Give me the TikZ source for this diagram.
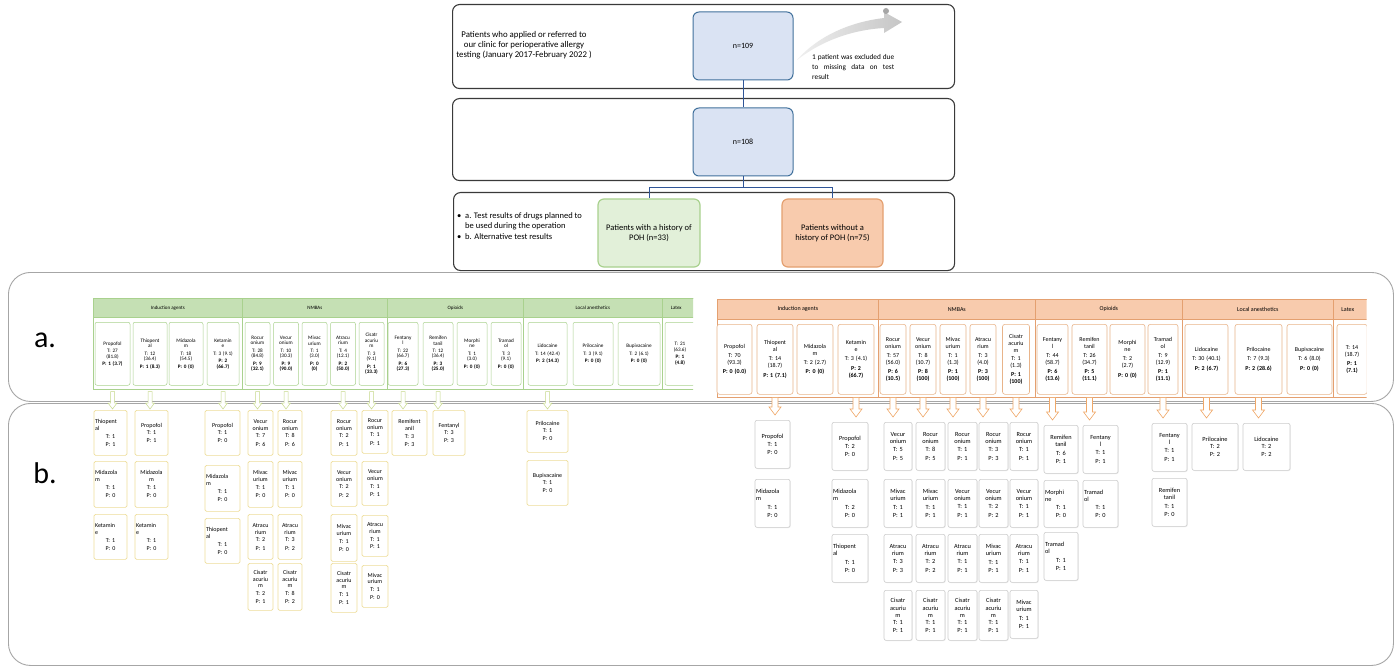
\documentclass[tikz,border=0pt]{standalone}
\usepackage{fontspec}
\setmainfont{Carlito}
\usetikzlibrary{calc,shadows}
\definecolor{frame}{HTML}{3A3A3A}
\definecolor{bluefill}{HTML}{DAE3F3}
\definecolor{blueline}{HTML}{41719C}
\definecolor{connc}{HTML}{2F5597}
\definecolor{gfill}{HTML}{E2F0D9}
\definecolor{gline}{HTML}{A9D18E}
\definecolor{ghead}{HTML}{C5E0B4}
\definecolor{ofill}{HTML}{F8CBAD}
\definecolor{oline}{HTML}{E4A070}
\definecolor{oitem}{HTML}{E8B48A}
\definecolor{yline}{HTML}{EEDD99}
\definecolor{larc}{HTML}{C5D88A}
\definecolor{rarc}{HTML}{F0A868}
\definecolor{panelc}{HTML}{A6A6A6}
\newcommand{\bx}[7]{%
  \pgfmathsetmacro{\tw}{#5-2}%
  \node[#1, minimum width=#5pt, minimum height=#6pt, text width=\tw pt, inner xsep=1pt, inner ysep=0pt, anchor=north] (#2) at (#3,#4) {#7};}
\newcommand{\hd}[7]{%
  \pgfmathsetmacro{\hw}{#4-#3}%
  \node[#1, minimum width=\hw pt, minimum height=#6pt, inner sep=0pt, anchor=north west] (#2) at (#3,#5) {#7};}
\newcommand{\nl}[1]{\makebox[\linewidth][l]{#1}}
\newcommand{\larr}[2]{\draw[larrow] let \p1=(#1.south), \p2=(#2.north) in
  (\x1-2pt,\y1-6pt) -- (\x1-2pt,\y2+7pt) -- (\x1-4.5pt,\y2+7pt) -- (\x1,\y2+1pt) -- (\x1+4.5pt,\y2+7pt) -- (\x1+2pt,\y2+7pt) -- (\x1+2pt,\y1-6pt) -- cycle;}
\newcommand{\rarr}[2]{\draw[rarrow] let \p1=(#1.south), \p2=(#2.north) in
  (\x1-3pt,\y1-3pt) -- (\x1-3pt,\y2+13pt) -- (\x1-6pt,\y2+13pt) -- (\x1,\y2+5pt) -- (\x1+6pt,\y2+13pt) -- (\x1+3pt,\y2+13pt) -- (\x1+3pt,\y1-3pt) -- cycle;}
\tikzset{
 tframe/.style={draw=frame, line width=1.1pt, rounded corners=7pt, inner sep=0pt},
 bluebox/.style={draw=blueline, fill=bluefill, line width=1pt, rounded corners=6pt, font=\fontsize{8}{10}\selectfont},
 greenbox/.style={draw=gline, fill=gfill, line width=1.2pt, rounded corners=6pt, align=center, font=\fontsize{8.5}{10}\selectfont},
 orangebox/.style={draw=oline, fill=ofill, line width=1.2pt, rounded corners=6pt, align=center, font=\fontsize{8.5}{10}\selectfont},
 conn/.style={draw=connc, line width=1pt},
 panelbox/.style={draw=panelc, line width=0.9pt, rounded corners=22pt, inner sep=0pt},
 lhead/.style={draw=gline, fill=ghead, line width=0.6pt, font=\fontsize{5}{6}\selectfont},
 lgroup/.style={draw=gline, line width=0.6pt},
 litem/.style={draw=gline, fill=white, line width=0.5pt, rounded corners=2pt, align=center, font=\fontsize{5.2}{5.7}\selectfont},
 lbox/.style={draw=yline, fill=white, line width=0.7pt, rounded corners=1.5pt, align=center, font=\fontsize{6}{6.8}\selectfont},
 rhead/.style={draw=oline, fill=ofill, line width=0.6pt, font=\fontsize{6}{7}\selectfont},
 rgroup/.style={draw=oline, line width=0.6pt},
 ritem/.style={draw=oitem, fill=white, line width=0.6pt, rounded corners=2.5pt, align=center, font=\fontsize{6}{6.8}\selectfont},
 rbox/.style={draw=gray!40, fill=white, line width=0.6pt, rounded corners=2pt, align=center, font=\fontsize{6.3}{7.3}\selectfont, drop shadow={shadow xshift=0.7pt, shadow yshift=-0.7pt, opacity=0.25, fill=gray!60}},
 larrow/.style={draw=larc, fill=white, line width=0.5pt},
 rarrow/.style={draw=rarc, fill=white, line width=0.6pt},
 plain/.style={inner sep=0pt}
}
\begin{document}
\begin{tikzpicture}[x=1pt,y=-1pt]
\useasboundingbox (0,0) rectangle (1399,668);
\fill[white] (0,0) rectangle (1399,668);

% ---------- top flow ----------
\node[tframe, minimum width=502pt, minimum height=84pt, anchor=north west] (f1) at (452,4) {};
\node[tframe, minimum width=502pt, minimum height=82pt, anchor=north west] (f2) at (452,98) {};
\node[tframe, minimum width=501pt, minimum height=78pt, anchor=north west] (f3) at (453,192) {};

\node[bluebox, minimum width=100pt, minimum height=68pt] (n109) at (743,46) {n=109};
\node[bluebox, minimum width=100pt, minimum height=68pt] (n108) at (743,142) {n=108};
\node[greenbox, minimum width=102pt, minimum height=68pt] (poh) at (649,233) {Patients with a history of\\POH (n=33)};
\node[orangebox, minimum width=101pt, minimum height=68pt] (nopoh) at (832.5,233) {Patients without a\\history of POH (n=75)};

\draw[conn] (n109.south) -- (n108.north);
\draw[conn] (n108.south) -- ++(0,11) -| (poh.north);
\draw[conn] (n108.south) -- ++(0,11) -| (nopoh.north);

\node[font=\fontsize{8.8}{10}\selectfont, align=center] (t1) at (524,45) {Patients who applied or referred to\\our clinic for perioperative allergy\\testing (January 2017-February 2022 )};

\shade[left color=gray!12, right color=gray!45] (797,60) .. controls (818,36) and (850,22) .. (884,18) -- (884,12) -- (902,22) -- (884,33) -- (884,28) .. controls (850,30) and (820,42) .. (797,60) -- cycle;
\node[circle, fill=gray!70, minimum size=6pt, inner sep=0pt] (dot) at (886,11) {};

\node[font=\fontsize{7.3}{10}\selectfont, align=left, anchor=north west, plain] (t2) at (812,54) {\makebox[82pt][s]{1 patient was excluded due}\\\makebox[82pt][s]{to missing data on test}\\result};

\node[font=\fontsize{8.5}{10.5}\selectfont, align=left, anchor=north west, plain] (t3) at (457,212) {\makebox[8pt][l]{\textbullet}a. Test results of drugs planned to\\\hspace*{8pt}be used during the operation\\\makebox[8pt][l]{\textbullet}b. Alternative test results};

% ---------- panels ----------
\node[panelbox, minimum width=1385pt, minimum height=129pt, anchor=north west] (pa) at (8,272) {};
\node[panelbox, minimum width=1385pt, minimum height=262pt, anchor=north west] (pb) at (8,403) {};
\draw[gray!70, line width=1pt] (698,403) -- (712,403);
\node[font=\fontsize{30}{30}\selectfont] (la) at (45,340) {a.};
\node[font=\fontsize{30}{30}\selectfont] (lbl) at (45,473) {b.};

% ---------- left (green) panel a ----------
\draw[lgroup] (93,298) rectangle (242,389);
\draw[lgroup] (242,298) rectangle (387,389);
\draw[lgroup] (387,298) rectangle (523,389);
\draw[lgroup] (523,298) rectangle (662,389);
\hd{lhead}{lhA}{93}{242}{298}{19}{Induction agents}
\hd{lhead}{lhB}{242}{387}{298}{19}{NMBAs}
\hd{lhead}{lhC}{387}{523}{298}{19}{Opioids}
\hd{lhead}{lhD}{523}{662}{298}{19}{Local anesthetics}
\begin{scope}
\clip (660,290) rectangle (693,395);
\draw[lgroup] (662,298) rectangle (700,389);
\hd{lhead}{lhE}{662}{700}{298}{19}{Latex\hspace*{10pt}}
\bx{litem}{lLat}{680}{322}{30}{63}{T: 21\\(63.6)\\[1.5pt]\bfseries P: 1\\(4.8)}
\end{scope}

\bx{litem}{lPro}{112.5}{322}{35}{63}{Propofol\\[1.5pt]T: 27\\(81.8)\\[1.5pt]\bfseries P: 1 (3.7)}
\bx{litem}{lThi}{150}{322}{34}{63}{Thiopent\\al\\[1.5pt]T: 12\\(36.4)\\[1.5pt]\bfseries P: 1 (8.3)}
\bx{litem}{lMid}{186}{322}{34}{63}{Midazola\\m\\[1.5pt]T: 18\\(54.5)\\[1.5pt]\bfseries P: 0 (0)}
\bx{litem}{lKet}{223}{322}{32}{63}{Ketamin\\e\\[1.5pt]T: 3 (9.1)\\[1.5pt]\bfseries P: 2\\(66.7)}
\bx{litem}{lRoc}{257.5}{322}{25}{63}{Rocur\\onium\\[1.5pt]T: 28\\(84.8)\\[1.5pt]\bfseries P: 9\\(32.1)}
\bx{litem}{lVec}{286}{322}{25}{63}{Vecur\\onium\\[1.5pt]T: 10\\(30.3)\\[1.5pt]\bfseries P: 9\\(90.0)}
\bx{litem}{lMiv}{314.5}{322}{25}{63}{Mivac\\urium\\[1.5pt]T: 1\\(3.0)\\[1.5pt]\bfseries P: 0\\(0)}
\bx{litem}{lAtr}{343}{322}{25}{63}{Atracu\\rium\\[1.5pt]T: 4\\(12.1)\\[1.5pt]\bfseries P: 2\\(50.0)}
\bx{litem}{lCis}{371.5}{322}{25}{63}{Cisatr\\acuriu\\m\\[1.5pt]T: 3\\(9.1)\\[1.5pt]\bfseries P: 1\\(33.3)}
\bx{litem}{lFen}{403}{322}{30}{63}{Fentany\\l\\[1.5pt]T: 22\\(66.7)\\[1.5pt]\bfseries P: 6\\(27.3)}
\bx{litem}{lRem}{438}{322}{30}{63}{Remifen\\tanil\\[1.5pt]T: 12\\(36.4)\\[1.5pt]\bfseries P: 3\\(25.0)}
\bx{litem}{lMor}{472}{322}{30}{63}{Morphi\\ne\\[1.5pt]T: 1\\(3.0)\\[1.5pt]\bfseries P: 0 (0)}
\bx{litem}{lTra}{506}{322}{30}{63}{Tramad\\ol\\[1.5pt]T: 3\\(9.1)\\[1.5pt]\bfseries P: 0 (0)}
\bx{litem}{lLid}{547.5}{322}{39}{63}{Lidocaine\\[1.5pt]T: 14 (42.4)\\[1.5pt]\bfseries P: 2 (14.3)}
\bx{litem}{lPri}{593}{322}{40}{63}{Prilocaine\\[1.5pt]T: 3 (9.1)\\[1.5pt]\bfseries P: 0 (0)}
\bx{litem}{lBup}{639}{322}{42}{63}{Bupivacaine\\[1.5pt]T: 2 (6.1)\\[1.5pt]\bfseries P: 0 (0)}

% ---------- left (green) panel b ----------
\bx{lbox}{lb11}{110.5}{410}{33}{45}{\nl{Thiopent}\\\nl{al}\\[1pt]T: 1\\[1.5pt]P: 1}
\bx{lbox}{lb12}{110.5}{461}{33}{46}{\nl{Midazola}\\\nl{m}\\[1pt]T: 1\\[1.5pt]P: 0}
\bx{lbox}{lb13}{110.5}{514}{33}{45}{\nl{Ketamin}\\\nl{e}\\[1pt]T: 1\\[1.5pt]P: 0}
\bx{lbox}{lb21}{151.5}{410}{33}{45}{Propofol\\T: 1\\[1.5pt]P: 1}
\bx{lbox}{lb22}{151.5}{461}{33}{46}{Midazola\\m\\[1pt]T: 1\\[1.5pt]P: 0}
\bx{lbox}{lb23}{151.5}{514}{33}{45}{\nl{Ketamin}\\\nl{e}\\[1pt]T: 1\\[1.5pt]P: 0}
\bx{lbox}{lb31}{222.5}{410}{35}{45}{Propofol\\T: 1\\[1.5pt]P: 0}
\bx{lbox}{lb32}{222.5}{465}{35}{46}{\nl{Midazola}\\\nl{m}\\[1pt]T: 1\\[1.5pt]P: 0}
\bx{lbox}{lb33}{222.5}{518}{35}{45}{\nl{Thiopent}\\\nl{al}\\[1pt]T: 1\\[1.5pt]P: 0}
\bx{lbox}{lb41}{260.5}{410}{25}{45}{Vecur\\onium\\[1pt]T: 7\\[1.5pt]P: 6}
\bx{lbox}{lb42}{260.5}{461}{25}{46}{Mivac\\urium\\[1pt]T: 1\\[1.5pt]P: 0}
\bx{lbox}{lb43}{260.5}{514}{25}{45}{Atracu\\rium\\[1pt]T: 2\\[1.5pt]P: 1}
\bx{lbox}{lb44}{260.5}{563}{25}{47}{Cisatr\\acuriu\\m\\[1pt]T: 2\\[1pt]P: 1}
\bx{lbox}{lb51}{290}{410}{24}{45}{Rocur\\onium\\[1pt]T: 8\\[1.5pt]P: 6}
\bx{lbox}{lb52}{290}{461}{24}{46}{Mivac\\urium\\[1pt]T: 1\\[1.5pt]P: 0}
\bx{lbox}{lb53}{290}{514}{24}{45}{Atracu\\rium\\[1pt]T: 3\\[1.5pt]P: 2}
\bx{lbox}{lb54}{290}{563}{24}{47}{Cisatr\\acuriu\\m\\[1pt]T: 8\\[1pt]P: 2}
\bx{lbox}{lb61}{344}{410}{26}{45}{Rocur\\onium\\[1pt]T: 2\\[1.5pt]P: 1}
\bx{lbox}{lb62}{344}{461}{26}{45}{Vecur\\onium\\[1pt]T: 2\\[1.5pt]P: 2}
\bx{lbox}{lb63}{344}{514}{26}{47}{Mivac\\urium\\[1pt]T: 1\\[1.5pt]P: 0}
\bx{lbox}{lb64}{344}{563}{26}{49}{Cisatr\\acuriu\\m\\[1pt]T: 1\\[1pt]P: 1}
\bx{lbox}{lb71}{375}{410}{26}{43}{Rocur\\onium\\[1pt]T: 1\\[1.5pt]P: 1}
\bx{lbox}{lb72}{375}{461}{26}{44}{Vecur\\onium\\[1pt]T: 1\\[1.5pt]P: 1}
\bx{lbox}{lb73}{375}{515}{26}{41}{Atracu\\rium\\[1pt]T: 1\\[1pt]P: 1}
\bx{lbox}{lb74}{375}{565}{26}{42}{Mivac\\urium\\[1pt]T: 1\\[1pt]P: 0}
\bx{lbox}{lb81}{409.5}{410}{35}{45}{Remifent\\anil\\[1pt]T: 3\\[1.5pt]P: 3}
\bx{lbox}{lb91}{449}{410}{32}{45}{Fentanyl\\T: 3\\[1.5pt]P: 3}
\bx{lbox}{lb101}{547.5}{410}{41}{42}{Prilocaine\\T: 1\\[1.5pt]P: 0}
\bx{lbox}{lb102}{547.5}{460}{41}{45}{Bupivacaine\\T: 1\\[1.5pt]P: 0}

\larr{lPro}{lb11}
\larr{lThi}{lb21}
\larr{lKet}{lb31}
\larr{lRoc}{lb41}
\larr{lVec}{lb51}
\larr{lAtr}{lb61}
\larr{lCis}{lb71}
\larr{lFen}{lb81}
\larr{lRem}{lb91}
\larr{lLid}{lb101}

% ---------- right (orange) panel a ----------
\draw[rgroup] (717,299) rectangle (878,397);
\draw[rgroup] (878,299) rectangle (1035,397);
\draw[rgroup] (1035,299) rectangle (1182,397);
\draw[rgroup] (1182,299) rectangle (1333,397);
\hd{rhead}{rhA}{717}{878}{299}{20}{Induction agents}
\hd{rhead}{rhB}{878}{1035}{299}{20}{NMBAs}
\hd{rhead}{rhC}{1035}{1182}{299}{20}{Opioids}
\hd{rhead}{rhD}{1182}{1333}{299}{20}{Local anesthetics}
\begin{scope}
\clip (1330,290) rectangle (1366.5,400);
\draw[rgroup] (1333,299) rectangle (1380,397);
\hd{rhead}{rhE}{1333}{1380}{299}{20}{Latex\hspace*{18pt}}
\bx{ritem}{rLat}{1352}{324}{30}{70}{T: 14\\(18.7)\\[2.5pt]\bfseries P: 1\\(7.1)}
\end{scope}

\bx{ritem}{rPro}{734.5}{324}{35}{70}{Propofol\\[2.5pt]T: 70\\(93.3)\\[2.5pt]\bfseries P: 0 (0.0)}
\bx{ritem}{rThi}{775}{324}{36}{70}{Thiopent\\al\\[2.5pt]T: 14\\(18.7)\\[2.5pt]\bfseries P: 1 (7.1)}
\bx{ritem}{rMid}{815}{324}{36}{70}{Midazola\\m\\[2.5pt]T: 2 (2.7)\\[2.5pt]\bfseries P: 0 (0)}
\bx{ritem}{rKet}{856}{324}{36}{70}{Ketamin\\e\\[2.5pt]T: 3 (4.1)\\[2.5pt]\bfseries P: 2\\(66.7)}
\bx{ritem}{rRoc}{893}{324}{26}{70}{Rocur\\onium\\[2.5pt]T: 57\\(56.0)\\[2.5pt]\bfseries P: 6\\(10.5)}
\bx{ritem}{rVec}{923}{324}{26}{70}{Vecur\\onium\\[2.5pt]T: 8\\(10.7)\\[2.5pt]\bfseries P: 8\\(100)}
\bx{ritem}{rMiv}{953}{324}{26}{70}{Mivac\\urium\\[2.5pt]T: 1\\(1.3)\\[2.5pt]\bfseries P: 1\\(100)}
\bx{ritem}{rAtr}{983}{324}{26}{70}{Atracu\\rium\\[2.5pt]T: 3\\(4.0)\\[2.5pt]\bfseries P: 3\\(100)}
\bx{ritem}{rCis}{1016}{324}{27}{70}{Cisatr\\acuriu\\m\\[2pt]T: 1\\(1.3)\\[2pt]\bfseries P: 1\\(100)}
\bx{ritem}{rFen}{1052.5}{324}{31}{70}{Fentany\\l\\[2.5pt]T: 44\\(58.7)\\[2.5pt]\bfseries P: 6\\(13.6)}
\bx{ritem}{rRem}{1089.5}{324}{35}{70}{Remifen\\tanil\\[2.5pt]T: 26\\(34.7)\\[2.5pt]\bfseries P: 5\\(11.1)}
\bx{ritem}{rMor}{1127.5}{324}{35}{70}{Morphi\\ne\\[2.5pt]T: 2\\(2.7)\\[2.5pt]\bfseries P: 0 (0)}
\bx{ritem}{rTra}{1163}{324}{30}{70}{Tramad\\ol\\[2.5pt]T: 9\\(12.9)\\[2.5pt]\bfseries P: 1\\(11.1)}
\bx{ritem}{rLid}{1206.5}{324}{43}{70}{Lidocaine\\[2.5pt]T: 30 (40.1)\\[2.5pt]\bfseries P: 2 (6.7)}
\bx{ritem}{rPri}{1258.5}{324}{47}{70}{Prilocaine\\[2.5pt]T: 7 (9.3)\\[2.5pt]\bfseries P: 2 (28.6)}
\bx{ritem}{rBup}{1309.5}{324}{45}{70}{Bupivacaine\\[2.5pt]T: 6 (8.0)\\[2.5pt]\bfseries P: 0 (0)}

% ---------- right (orange) panel b ----------
\bx{rbox}{rbT1}{772.5}{420}{35}{48}{Propofol\\[1pt]T: 1\\[1pt]P: 0}
\bx{rbox}{rbT2}{772.5}{479}{35}{48}{\nl{Midazola}\\\nl{m}\\[1pt]T: 1\\[1pt]P: 0}
\bx{rbox}{rbK1}{850}{422}{36}{48}{Propofol\\[1pt]T: 2\\[1pt]P: 0}
\bx{rbox}{rbK2}{850}{479}{36}{48}{\nl{Midazola}\\\nl{m}\\[1pt]T: 2\\[1pt]P: 0}
\bx{rbox}{rbK3}{850}{534}{36}{48}{\nl{Thiopent}\\\nl{al}\\[1pt]T: 1\\[1pt]P: 0}
\bx{rbox}{rbR1}{898}{422}{28}{48}{Vecur\\onium\\[1pt]T: 5\\[1pt]P: 5}
\bx{rbox}{rbR2}{898}{479}{28}{48}{Mivac\\urium\\[1pt]T: 1\\[1pt]P: 1}
\bx{rbox}{rbR3}{898}{534}{28}{48}{Atracu\\rium\\[1pt]T: 3\\[1pt]P: 3}
\bx{rbox}{rbR4}{898}{590}{28}{50}{Cisatr\\acuriu\\m\\T: 1\\P: 1}
\bx{rbox}{rbV1}{930.5}{422}{29}{48}{Rocur\\onium\\[1pt]T: 8\\[1pt]P: 5}
\bx{rbox}{rbV2}{930.5}{479}{29}{48}{Mivac\\urium\\[1pt]T: 1\\[1pt]P: 1}
\bx{rbox}{rbV3}{930.5}{534}{29}{48}{Atracu\\rium\\[1pt]T: 2\\[1pt]P: 2}
\bx{rbox}{rbV4}{930.5}{590}{29}{50}{Cisatr\\acuriu\\m\\T: 1\\P: 1}
\bx{rbox}{rbM1}{962.5}{422}{29}{48}{Rocur\\onium\\[1pt]T: 1\\[1pt]P: 1}
\bx{rbox}{rbM2}{962.5}{479}{29}{48}{Vecur\\onium\\[1pt]T: 1\\[1pt]P: 1}
\bx{rbox}{rbM3}{962.5}{534}{29}{48}{Atracu\\rium\\[1pt]T: 1\\[1pt]P: 1}
\bx{rbox}{rbM4}{962.5}{590}{29}{50}{Cisatr\\acuriu\\m\\T: 1\\P: 1}
\bx{rbox}{rbA1}{993.5}{422}{29}{48}{Rocur\\onium\\[1pt]T: 3\\[1pt]P: 3}
\bx{rbox}{rbA2}{993.5}{479}{29}{48}{Vecur\\onium\\[1pt]T: 2\\[1pt]P: 2}
\bx{rbox}{rbA3}{993.5}{534}{29}{48}{Mivac\\urium\\[1pt]T: 1\\[1pt]P: 1}
\bx{rbox}{rbA4}{993.5}{590}{29}{50}{Cisatr\\acuriu\\m\\T: 1\\P: 1}
\bx{rbox}{rbC1}{1024}{422}{28}{48}{Rocur\\onium\\[1pt]T: 1\\[1pt]P: 1}
\bx{rbox}{rbC2}{1024}{479}{28}{48}{Vecur\\onium\\[1pt]T: 1\\[1pt]P: 1}
\bx{rbox}{rbC3}{1024}{534}{28}{48}{Atracu\\rium\\[1pt]T: 1\\[1pt]P: 1}
\bx{rbox}{rbC4}{1024}{590}{28}{48}{Mivac\\urium\\[1pt]T: 1\\[1pt]P: 1}
\bx{rbox}{rbF1}{1061}{425}{34}{48}{Remifen\\tanil\\[1pt]T: 6\\[1pt]P: 1}
\bx{rbox}{rbF2}{1061}{480}{34}{47}{\nl{Morphi}\\\nl{ne}\\[1pt]T: 1\\[1pt]P: 0}
\bx{rbox}{rbF3}{1061}{532}{34}{48}{\nl{Tramad}\\\nl{ol}\\[1pt]T: 1\\[1pt]P: 1}
\bx{rbox}{rbRe1}{1100.5}{425}{35}{48}{Fentany\\l\\[1pt]T: 1\\[1pt]P: 1}
\bx{rbox}{rbRe2}{1100.5}{480}{35}{47}{\nl{Tramad}\\\nl{ol}\\[1pt]T: 1\\[1pt]P: 0}
\bx{rbox}{rbTr1}{1169.5}{423}{35}{48}{Fentany\\l\\[1pt]T: 1\\[1pt]P: 1}
\bx{rbox}{rbTr2}{1169.5}{478}{35}{48}{Remifen\\tanil\\[1pt]T: 1\\[1pt]P: 0}
\bx{rbox}{rbL1}{1215}{423}{46}{47}{Prilocaine\\T: 2\\[1pt]P: 2}
\bx{rbox}{rbP1}{1266.5}{423}{47}{47}{Lidocaine\\T: 2\\[1pt]P: 2}

\rarr{rThi}{rbT1}
\rarr{rKet}{rbK1}
\rarr{rRoc}{rbR1}
\rarr{rVec}{rbV1}
\rarr{rMiv}{rbM1}
\rarr{rAtr}{rbA1}
\rarr{rCis}{rbC1}
\rarr{rFen}{rbF1}
\rarr{rRem}{rbRe1}
\rarr{rTra}{rbTr1}
\rarr{rLid}{rbL1}
\rarr{rPri}{rbP1}
\end{tikzpicture}
\end{document}
